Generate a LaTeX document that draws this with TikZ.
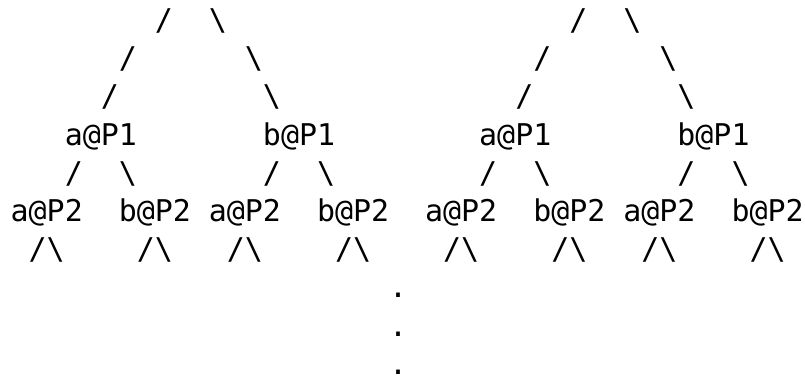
\documentclass[tikz,border=0pt]{standalone}
\usepackage{fontspec}
\newfontfamily\asciimono{DejaVu Sans Mono}
\begin{document}
\begin{tikzpicture}[x=1pt,y=-1pt,
  ch/.style={anchor=base west, inner sep=0pt, outer sep=0pt,
    font=\fontsize{29.93pt}{38.2pt}\asciimono}]
\def\cw{18.02}
\def\ox{10.7}
\newcommand\tok[4]{\node[ch] (#1) at ({\ox+\cw*(#2)}, #3) {#4};}
\fill[white] (0,0) rectangle (805,378);
\useasboundingbox (0,0) rectangle (805,378);
% rows: baselines
\def\rA{30.5}\def\rB{68.7}\def\rC{106.9}\def\rD{145.1}\def\rE{183.3}
\def\rF{221.5}\def\rG{259.7}\def\rH{297.9}\def\rI{336.1}\def\rJ{374.3}
% left tree
\tok{La1}{8}{\rA}{/}
\tok{Lb1}{11}{\rA}{\textbackslash}
\tok{La2}{6}{\rB}{/}
\tok{Lb2}{13}{\rB}{\textbackslash}
\tok{La3}{5}{\rC}{/}
\tok{Lb3}{14}{\rC}{\textbackslash}
\tok{LaP1}{3}{\rD}{a@P1}
\tok{LbP1}{14}{\rD}{b@P1}
\tok{Ls1}{3}{\rE}{/}
\tok{Ls2}{6}{\rE}{\textbackslash}
\tok{Ls3}{14}{\rE}{/}
\tok{Ls4}{17}{\rE}{\textbackslash}
\tok{LaaP2}{0}{\rF}{a@P2}
\tok{LabP2}{6}{\rF}{b@P2}
\tok{LbaP2}{11}{\rF}{a@P2}
\tok{LbbP2}{17}{\rF}{b@P2}
\tok{Lv1}{1}{\rG}{/\textbackslash}
\tok{Lv2}{7}{\rG}{/\textbackslash}
\tok{Lv3}{12}{\rG}{/\textbackslash}
\tok{Lv4}{18}{\rG}{/\textbackslash}
% right tree (offset 23 columns)
\tok{Ra1}{31}{\rA}{/}
\tok{Rb1}{34}{\rA}{\textbackslash}
\tok{Ra2}{29}{\rB}{/}
\tok{Rb2}{36}{\rB}{\textbackslash}
\tok{Ra3}{28}{\rC}{/}
\tok{Rb3}{37}{\rC}{\textbackslash}
\tok{RaP1}{26}{\rD}{a@P1}
\tok{RbP1}{37}{\rD}{b@P1}
\tok{Rs1}{26}{\rE}{/}
\tok{Rs2}{29}{\rE}{\textbackslash}
\tok{Rs3}{37}{\rE}{/}
\tok{Rs4}{40}{\rE}{\textbackslash}
\tok{RaaP2}{23}{\rF}{a@P2}
\tok{RabP2}{29}{\rF}{b@P2}
\tok{RbaP2}{34}{\rF}{a@P2}
\tok{RbbP2}{40}{\rF}{b@P2}
\tok{Rv1}{24}{\rG}{/\textbackslash}
\tok{Rv2}{30}{\rG}{/\textbackslash}
\tok{Rv3}{35}{\rG}{/\textbackslash}
\tok{Rv4}{41}{\rG}{/\textbackslash}
% dots
\tok{d1}{21}{\rH}{.}
\tok{d2}{21}{\rI}{.}
\tok{d3}{21}{\rJ}{.}
\end{tikzpicture}
\end{document}
